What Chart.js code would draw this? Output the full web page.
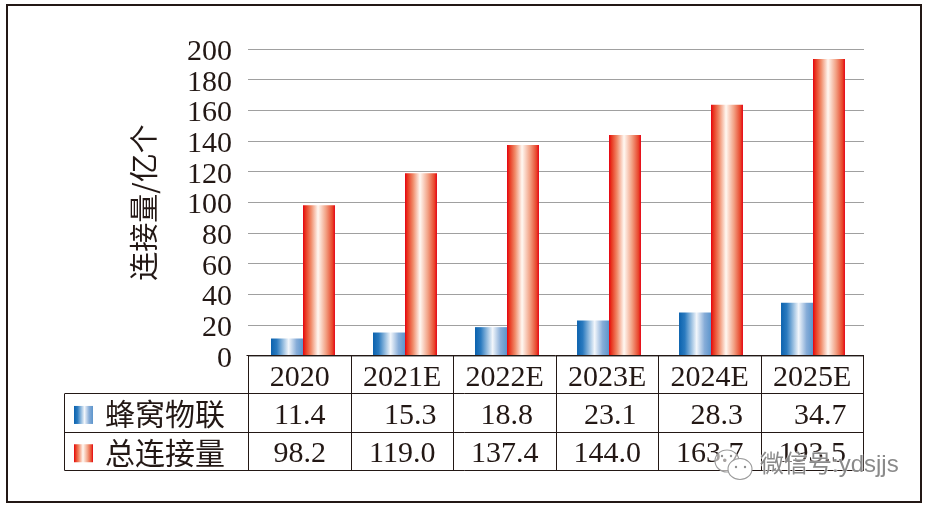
<!DOCTYPE html>
<html><head><meta charset="utf-8">
<style>html,body{margin:0;padding:0;background:#fff}#w{width:930px;height:508px;position:relative}</style>
<script src="https://cdn.jsdelivr.net/npm/chart.js@4/dist/chart.umd.min.js"></script>
</head><body><div id="w"><canvas id="c" width="930" height="508"></canvas></div>
<script>
const categories = ['2020','2021E','2022E','2023E','2024E','2025E'];
const cellular = [11.4,15.3,18.8,23.1,28.3,34.7];
const total = [98.2,119.0,137.4,144.0,163.7,193.5];
const cellularText = ['11.4','15.3','18.8','23.1','28.3','34.7'];
const totalText = ['98.2','119.0','137.4','144.0','163.7','193.5'];
const seriesNames = ['蜂窝物联','总连接量'];
const yTitle = '连接量/亿个';
const watermark = '微信号:ydsjjs';

const INK = '#231815';
const LATIN = '"Liberation Serif"';
const CJK = '"Noto Sans CJK SC"';
const BAR_FRACTION = 0.627;
const TABLE_LEFT = 248.5, COL_W = 102.5;
const colCenter = i => TABLE_LEFT + COL_W*(i+0.5);

function stops(g, kind){
  if(kind===0){
    g.addColorStop(0,'#0b62ae');g.addColorStop(0.18,'#2a7abf');g.addColorStop(0.55,'#f2f6fb');g.addColorStop(0.8,'#86acd8');g.addColorStop(1,'#5c95cc');
  }else{
    g.addColorStop(0,'#e60012');g.addColorStop(0.07,'#e8321c');g.addColorStop(0.25,'#f08a68');g.addColorStop(0.47,'#fff8f2');g.addColorStop(0.72,'#f2a083');g.addColorStop(0.92,'#e8472c');g.addColorStop(1,'#e60012');
  }
  return g;
}
function barFill(kind){
  return (ctx)=>{
    const s = ctx.chart.scales.x;
    const fallback = kind? '#e60012':'#0b62ae';
    if(!s || ctx.dataIndex===undefined) return fallback;
    const c = s.getPixelForValue(ctx.dataIndex);
    const w = s.width/categories.length*BAR_FRACTION/2;
    const x0 = kind? c : c-w;
    if(!Number.isFinite(x0) || !Number.isFinite(w) || w<=0) return fallback;
    return stops(ctx.chart.ctx.createLinearGradient(x0,0,x0+w,0),kind);
  };
}
const tablePlugin = {
  id:'table',
  beforeDraw(chart){
    if(chart.$labelsNudged) return;
    chart.$labelsNudged = true;
    chart.scales.y.getLabelItems().forEach(it=>{ it.options.translation[1] += 3; });
    chart.scales.x.getLabelItems().forEach((it,i)=>{ it.options.translation[0] = colCenter(i); });
  },
  afterDraw(chart){
    const {ctx,scales:{x}} = chart;
    const base = 355.5;
    const rowH = 38.3, left = 64.5;
    ctx.save();
    ctx.strokeStyle = INK; ctx.lineWidth = 1;
    ctx.beginPath();
    for(let i=0;i<=categories.length;i++){
      const px = Math.round(TABLE_LEFT+COL_W*i-0.5)+0.5;
      ctx.moveTo(px,base); ctx.lineTo(px,base+rowH*3);
    }
    ctx.moveTo(TABLE_LEFT-2,base); ctx.lineTo(x.right,base);
    for(let r=1;r<=3;r++){
      const py = Math.round(base+rowH*r-0.5)+0.5;
      ctx.moveTo(left,py); ctx.lineTo(x.right,py);
    }
    ctx.moveTo(left,base+rowH); ctx.lineTo(left,base+rowH*3);
    ctx.stroke();
    // values
    const shift = [0,8,2,3,7,8];
    ctx.fillStyle = INK; ctx.textAlign='center'; ctx.textBaseline='middle';
    ctx.font = '30px '+LATIN;
    categories.forEach((_,i)=>{
      const cx = colCenter(i);
      ctx.fillText(cellularText[i],cx+shift[i],base+rowH*1.5+3);
      ctx.fillText(totalText[i],cx,base+rowH*2.5+3);
    });
    // row headers and swatches
    ctx.textAlign='left';
    ctx.font = '30px '+CJK;
    seriesNames.forEach((n,r)=>{
      const cy = base+rowH*(1.5+r);
      ctx.fillStyle = stops(ctx.createLinearGradient(74,0,93,0),r);
      ctx.fillRect(74,cy-7,19,18);
      ctx.fillStyle = INK;
      ctx.fillText(n,105,cy+1);
    });
    // outer frame
    ctx.strokeStyle = INK; ctx.lineWidth = 2;
    ctx.strokeRect(7,5,914,497);
    // watermark
    ctx.strokeStyle='#9a9a9a'; ctx.lineWidth=1.1;
    ctx.fillStyle='rgba(255,255,255,0.6)';
    [[727,461,12,11],[740,469,12,10.5]].forEach((b,k)=>{
      ctx.beginPath();ctx.ellipse(b[0],b[1],b[2],b[3],0,0,Math.PI*2);
      ctx.fillStyle = k? '#fff':'rgba(255,255,255,0.6)';
      ctx.fill();ctx.stroke();
    });
    ctx.fillStyle='#8f8f8f';
    [[722,456],[731,456],[736,467],[745,467]].forEach(d=>{
      ctx.beginPath();ctx.arc(d[0],d[1],1.2,0,Math.PI*2);ctx.fill();
    });
    ctx.font = '24px "Liberation Sans",'+CJK;
    ctx.textBaseline='middle';
    ctx.lineWidth=1.5; ctx.strokeStyle='rgba(255,255,255,0.6)';
    ctx.strokeText(watermark,760,465);
    ctx.fillStyle='#8a8a8a';
    ctx.fillText(watermark,760,465);
    ctx.restore();
  }
};
new Chart(document.getElementById('c'),{
  type:'bar',
  data:{labels:categories,datasets:[
    {label:seriesNames[0],data:cellular,backgroundColor:barFill(0)},
    {label:seriesNames[1],data:total,backgroundColor:barFill(1)}
  ]},
  options:{
    responsive:false,animation:false,
    layout:{padding:{left:127,right:66,top:49,bottom:0}},
    plugins:{legend:{display:false},tooltip:{enabled:false}},
    datasets:{bar:{categoryPercentage:BAR_FRACTION,barPercentage:1,borderWidth:0}},
    scales:{
      y:{min:0,max:200,
        afterFit(s){s.width=125;},
        border:{display:false},
        grid:{color:'#a0a0a0',lineWidth:1,drawTicks:true,tickLength:4},
        ticks:{stepSize:20,autoSkip:false,padding:16,color:INK,font:{family:LATIN,size:30}},
        title:{display:true,text:yTitle,color:INK,padding:0,font:{family:CJK,size:29}}
      },
      x:{
        afterFit(s){s.height=152;},
        border:{display:false},
        grid:{display:false,drawTicks:false},
        ticks:{padding:4,color:INK,maxRotation:0,font:{family:LATIN,size:30}}
      }
    }
  },
  plugins:[tablePlugin]
});
</script></body></html>
